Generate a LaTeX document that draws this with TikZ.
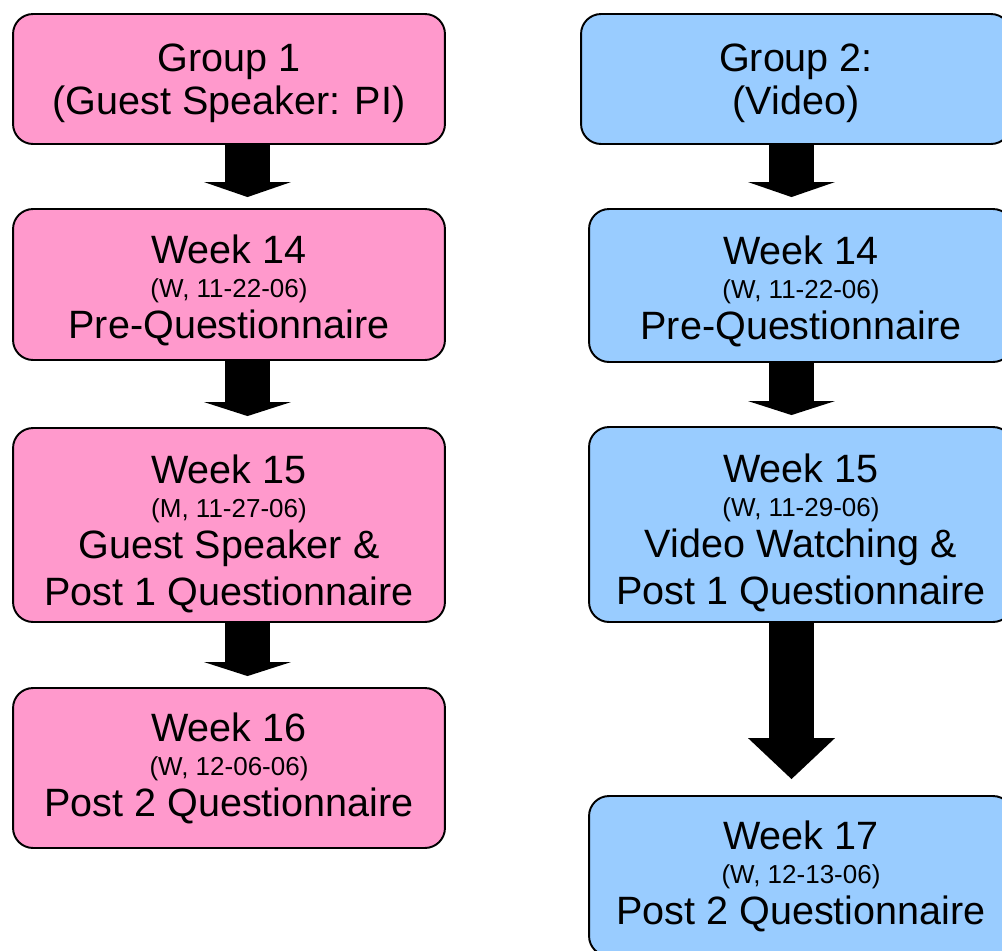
\documentclass[tikz,border=0pt]{standalone}
\usepackage{fontspec}
\setmainfont{Liberation Sans}
\usetikzlibrary{calc}
\definecolor{grpone}{HTML}{FF99CC}
\definecolor{grptwo}{HTML}{99CCFF}
\newcommand\datefont{\fontsize{14.8}{17}\selectfont}
\newcommand\dropstrut[1]{\rule{0pt}{#1}}
% block arrow: from, to, column, head length, gap before target
\newcommand\blockarrow[5]{%
	\fill let \p1=(#1.south -| #3), \p2=(#2.north -| #3) in
		(\x1-0.45cm,\y1) -- (\x1+0.45cm,\y1) -- (\x1+0.45cm,\y2+#5+#4)
		-- (\x1+0.87cm,\y2+#5+#4) -- (\x1,\y2+#5) -- (\x1-0.87cm,\y2+#5+#4)
		-- (\x1-0.45cm,\y2+#5+#4) -- cycle;}
\begin{document}
\begin{tikzpicture}[x=0.02cm,y=-0.02cm,
		box/.style={draw,line width=1.1pt,rounded corners=0.4cm,align=center,inner sep=0pt,
			font=\fontsize{22.5}{26.7}\selectfont,minimum width=8.64cm},
		pinkbox/.style={box,fill=grpone},
		bluebox/.style={box,fill=grptwo,minimum width=8.48cm}]
	\useasboundingbox (0,0) rectangle (1002,951);
	\clip (0,0) rectangle (1002,951);
	\coordinate (colL) at (247.5,0);
	\coordinate (colR) at (791.5,0);

	% group 1
	\node[pinkbox,minimum height=2.6cm] (one) at (229,79)
		{\dropstrut{20.6pt}Group 1\\[-1.7pt](Guest Speaker: PI)};
	\node[pinkbox,minimum height=3.02cm] (oneA) at (229,284.5)
		{\dropstrut{23.2pt}Week 14\\[-7.4pt]{\datefont (W, 11-22-06)}\\[-3.4pt]Pre-Questionnaire};
	\node[pinkbox,minimum height=3.88cm] (oneB) at (229,525)
		{\dropstrut{26.1pt}Week 15\\[-7.4pt]{\datefont (M, 11-27-06)}\\[-3.4pt]Guest Speaker \&\\Post 1 Questionnaire};
	\node[pinkbox,minimum height=3.2cm] (oneC) at (229,768)
		{Week 16\\[-7.4pt]{\datefont (W, 12-06-06)}\\[-3.4pt]Post 2 Questionnaire};

	% group 2
	\node[bluebox,minimum height=2.6cm,minimum width=8.6cm] (two) at (796,79)
		{\dropstrut{20.6pt}Group 2:\\[-1.7pt](Video)};
	\node[bluebox,minimum height=3.06cm] (twoA) at (801,285.5)
		{\dropstrut{23.2pt}Week 14\\[-7.4pt]{\datefont (W, 11-22-06)}\\[-3.4pt]Pre-Questionnaire};
	\node[bluebox,minimum height=3.9cm] (twoB) at (801,524.5)
		{\dropstrut{26.1pt}Week 15\\[-7.4pt]{\datefont (W, 11-29-06)}\\[-3.4pt]Video Watching \&\\Post 1 Questionnaire};
	\node[bluebox,minimum height=3.2cm] (twoC) at (801,876)
		{Week 17\\[-7.4pt]{\datefont (W, 12-13-06)}\\[-3.4pt]Post 2 Questionnaire};

	\blockarrow{one}{oneA}{colL}{0.3cm}{0.22cm}
	\blockarrow{oneA}{oneB}{colL}{0.28cm}{0.22cm}
	\blockarrow{oneB}{oneC}{colL}{0.28cm}{0.22cm}
	\blockarrow{two}{twoA}{colR}{0.3cm}{0.22cm}
	\blockarrow{twoA}{twoB}{colR}{0.28cm}{0.22cm}
	\blockarrow{twoB}{twoC}{colR}{0.82cm}{0.32cm}
\end{tikzpicture}
\end{document}
